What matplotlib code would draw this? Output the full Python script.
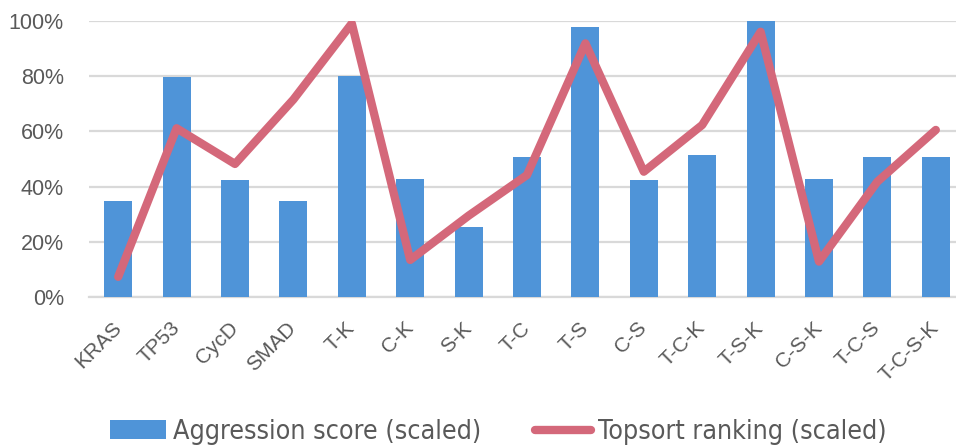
import matplotlib
matplotlib.use("Agg")
import matplotlib.pyplot as plt
from matplotlib import font_manager
from matplotlib.ticker import PercentFormatter

# Data
categories = ["KRAS", "TP53", "CycD", "SMAD", "T-K", "C-K", "S-K", "T-C",
              "T-S", "C-S", "T-C-K", "T-S-K", "C-S-K", "T-C-S", "T-C-S-K"]
aggression = [34.7, 79.7, 42.3, 34.7, 80.1, 42.6, 25.5, 50.7,
              97.6, 42.3, 51.4, 100.0, 42.6, 50.7, 50.7]
topsort = [7.4, 61.1, 48.2, 71.5, 99.0, 13.5, 29.5, 44.2,
           91.8, 45.4, 62.3, 96.0, 12.9, 41.8, 60.5]
y_ticks = [0, 20, 40, 60, 80, 100]

BAR_COLOR = "#4F94D8"
LINE_COLOR = "#D4687A"
TEXT_COLOR = "#595959"
GRID_COLOR = "#D9D9D9"

names = {f.name for f in font_manager.fontManager.ttflist}
base_font = "Liberation Sans" if "Liberation Sans" in names else "DejaVu Sans"
if "Liberation Sans Narrow" in names:
    legend_font = dict(family="Liberation Sans Narrow")
else:
    legend_font = dict(family="DejaVu Sans", stretch="condensed")

plt.rcParams["font.family"] = base_font

fig = plt.figure(figsize=(9.56, 4.47), dpi=100)
ax = fig.add_axes([89 / 956, 0.335, 876 / 956, 0.6187])

x = list(range(len(categories)))
bars = ax.bar(x, aggression, width=0.48, color=BAR_COLOR, zorder=2,
              label="Aggression score (scaled)")
line, = ax.plot(x, topsort, color=LINE_COLOR, linewidth=6, zorder=3,
                solid_capstyle="round", solid_joinstyle="round",
                label="Topsort ranking (scaled)")

ax.set_xlim(-0.5, len(categories) - 0.5)
ax.set_ylim(0, 100)
ax.set_yticks(y_ticks)
ax.yaxis.set_major_formatter(PercentFormatter(decimals=0))
ax.grid(axis="y", color=GRID_COLOR, linewidth=1.6, zorder=0)
for side in ["top", "right", "left"]:
    ax.spines[side].set_visible(False)
ax.spines["bottom"].set_color(GRID_COLOR)
ax.spines["bottom"].set_linewidth(1.6)
ax.spines["bottom"].set_zorder(1)

ax.set_xticks(x)
ax.set_xticklabels(categories, rotation=45, ha="right", va="center",
                   rotation_mode="anchor", fontsize=15, color=TEXT_COLOR)
ax.tick_params(axis="x", length=0, pad=20)
ax.tick_params(axis="y", length=0, pad=18, labelsize=15.5,
               labelcolor=TEXT_COLOR)

leg = fig.legend([bars, line],
                 ["Aggression score (scaled)", "Topsort ranking (scaled)"],
                 loc="center", ncol=2,
                 bbox_to_anchor=(498 / 956, 15 / 447), frameon=False,
                 prop=font_manager.FontProperties(size=19.3, **legend_font),
                 handlelength=2.1, handleheight=0.7, handletextpad=0.25,
                 columnspacing=2.0, borderaxespad=0)
for t in leg.get_texts():
    t.set_color(TEXT_COLOR)

fig.savefig("out.png", dpi=100)
